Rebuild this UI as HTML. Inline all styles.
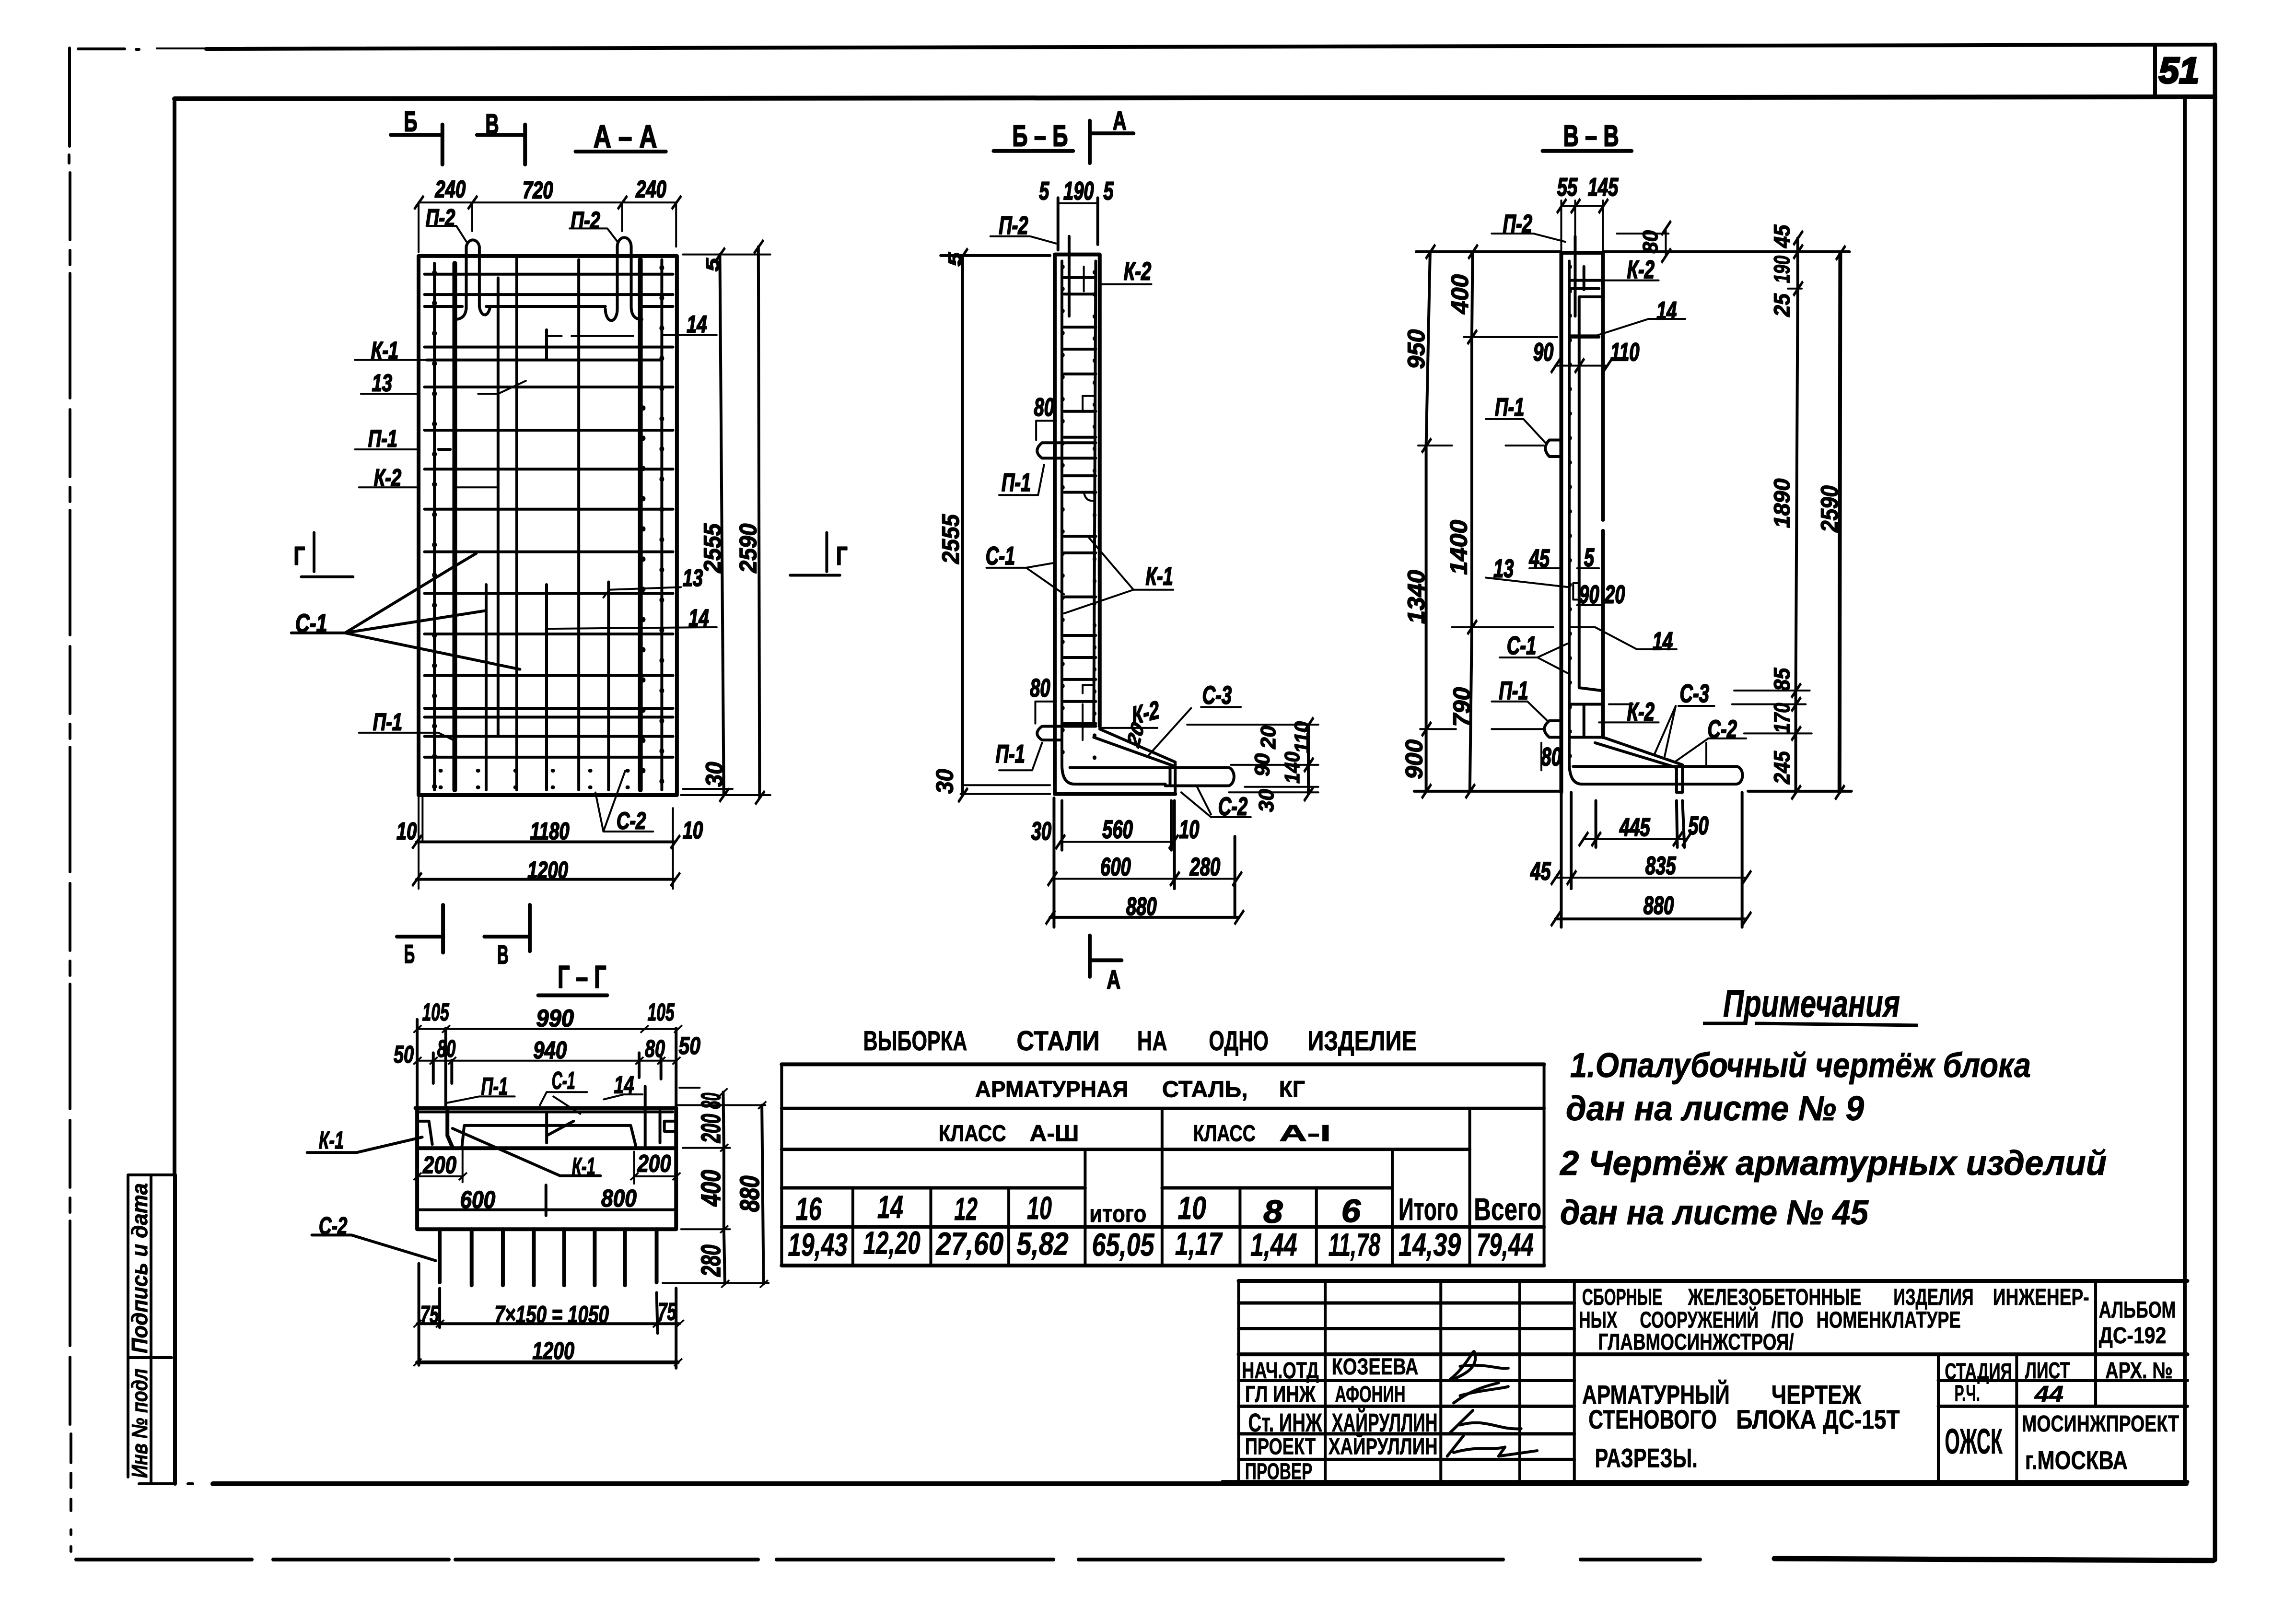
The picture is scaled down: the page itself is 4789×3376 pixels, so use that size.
<!DOCTYPE html>
<html><head><meta charset="utf-8"><style>
html,body{margin:0;padding:0;background:#fff}
svg{display:block}
svg *{vector-effect:non-scaling-stroke}
g.l{fill:none;stroke:#000;stroke-width:5;stroke-linecap:round;stroke-linejoin:round}
text{fill:#000;stroke:#000;stroke-width:2;font-family:"Liberation Sans","Noto Sans CJK SC",sans-serif;font-weight:bold}
.c{text-anchor:middle;dominant-baseline:central;font-style:italic}
.h{text-anchor:middle;dominant-baseline:central}
.n{font-style:italic;font-size:72px;stroke-width:1;font-weight:bold}
.d{marker-start:url(#t);marker-mid:url(#t);marker-end:url(#t)}
.k{stroke-width:8}
.m{stroke-width:6}
.f{stroke-width:4}
</style></head><body>
<svg xmlns="http://www.w3.org/2000/svg" width="4789" height="3376" viewBox="0 0 4789 3376">
<defs><marker id="t" viewBox="-20 -20 40 40" markerWidth="40" markerHeight="40" markerUnits="userSpaceOnUse" refX="0" refY="0" overflow="visible"><polygon points="-13,11 11,-15 15,-11 -9,15" fill="#000" stroke="none"/></marker></defs>
<rect width="4789" height="3376" fill="#fff"/>

<!-- frame -->
<g class="l">
<path class="k" d="M430 102L4620 93"/>
<path class="f" d="M327 101H430"/>
<path class="m" d="M163 102H260M284 103H290"/>
<path class="m" d="M145 100V305M144 323V340" />
<path class="m" stroke-dasharray="140 22 30 18 260 24" d="M146 360V2990"/>
<path class="m" stroke-dasharray="60 22 30 24" d="M148 2990V3150"/>
<path class="m" d="M148 3190V3200M148 3225V3235"/>
<path class="k" d="M159 3252H525M570 3252H936M950 3252H1581M1620 3252H2197M2250 3252H3135M3297 3252H3546"/>
<path stroke-width="11" d="M3701 3250L4616 3254"/>
<path stroke-width="9" d="M4620 93V3253"/>
<path stroke-width="8" d="M4495 93V202"/>
<path stroke-width="10" d="M364 206L4620 202"/>
<path class="k" d="M364 206V2450"/>
<path class="k" d="M365 2450V3094"/>
<path stroke-width="8" d="M4557 202V3090"/>
<path stroke-width="10" d="M444 3094H4560"/>
<path class="m" d="M290 3094H361M392 3094H402"/>
<path class="m" d="M267 2450H365M267 2450V3080M315 2450V3090M267 2831H358"/>
</g>
<text x="4545" y="173" text-anchor="middle" style="font-size:76px;font-style:italic;stroke-width:4">51</text>
<text transform="translate(307,2822) rotate(-90)" textLength="355" lengthAdjust="spacingAndGlyphs" style="font-size:46px;font-style:italic;stroke-width:1">Подпись и дата</text>
<text transform="translate(307,3082) rotate(-90)" textLength="228" lengthAdjust="spacingAndGlyphs" style="font-size:46px;font-style:italic;stroke-width:1">Инв № подл</text>

<!-- A-A -->
<g class="l" transform="translate(500,200) scale(.829,1.084)" style="font-size:46px">
<path class="k" d="M450 308H1100V1345H450Z"/>
<path class="m" d="M465 343H1090M465 382H1090M465 405H560M620 405H920M1010 405H1090M465 483H1090M470 508H1060M465 560H1090M465 643H1090M500 680H530M465 718H1090M465 795H1090M465 877H1090M465 957H1090M465 1035H1090M465 1115H1090M465 1178H1090M465 1195H1090M465 1232H1090M465 1272H1090"/>
<path class="m" d="M490 322V1335M650 350V1230M697 310V1335M853 315V1335M1062 315V1335M620 940V1335M772 940V1335M928 935V1335"/>
<path stroke-width="10" d="M541 322V1335M1008 315V1335"/>
<path stroke-width="10" stroke-dasharray="1 62" d="M490 340V1330M1062 330V1330M1015 600V1330"/>
<path stroke-width="8" stroke-dasharray="1 77" d="M505 1298H1050M505 1330H1050"/>
<path class="m" d="M570 410V290A17 17 0 0 1 603 290V405A14 22 0 0 0 630 405M540 430Q570 430 570 405M950 410V290A17 17 0 0 1 985 290V405Q985 430 1012 430M920 410A15 22 0 0 0 950 410"/>
<path class="k" d="M380 75H510M510 55V132M597 75H718M718 55V132M845 107H1072"/>
<text class="h" x="430" y="50" textLength="34" lengthAdjust="spacingAndGlyphs" style="font-size:54px">Б</text>
<text class="h" x="635" y="55" textLength="34" lengthAdjust="spacingAndGlyphs" style="font-size:54px">В</text>
<text class="h" x="970" y="78" textLength="160" lengthAdjust="spacing" style="font-size:62px">А – А</text>
<path class="d f" d="M450 205H585H962H1098"/>
<path class="f" d="M450 205V300M585 205V260M962 205V260M1098 205V290"/>
<text class="c" x="530" y="180">240</text><text class="c" x="750" y="182">720</text><text class="c" x="1035" y="180">240</text>
<path class="f" d="M470 250H545L570 280M830 255H925L950 280"/>
<text class="c" x="505" y="235">П-2</text><text class="c" x="870" y="240">П-2</text>
<path class="f" d="M1063 460H1200M772 462H810M835 462H990"/>
<path class="m" d="M772 450V505"/>
<text class="c" x="1150" y="440">14</text>
<path class="f" d="M290 508H490M305 573H445M600 573H650L720 548M290 680H445M300 753H445M540 753H650"/>
<text class="c" x="365" y="490">К-1</text><text class="c" x="358" y="553">13</text><text class="c" x="360" y="660">П-1</text><text class="c" x="372" y="735">К-2</text>
<path class="m" d="M187 840V915M155 925H285M1477 840V915M1385 922H1510"/>
<text class="h" x="150" y="885" style="font-size:50px">Г</text><text class="h" x="1515" y="885" style="font-size:50px">Г</text>
<path class="m" d="M130 1033H265L540 905L595 880M265 1033L620 990M265 1033L705 1103"/>
<text class="c" x="180" y="1015" style="font-size:50px">С-1</text>
<path class="f" d="M915 965L930 950L1110 945M775 1025L1200 1022M300 1225H500L540 1240"/>
<text class="c" x="1140" y="928">13</text><text class="c" x="1155" y="1005">14</text><text class="c" x="372" y="1205">П-1</text>
<path class="f" d="M895 1340L915 1415H1040M915 1415L970 1298"/>
<text class="c" x="985" y="1395">С-2</text>
<path class="d m" d="M1208 305L1218 1345"/><path class="d m" d="M1305 290L1308 1350"/>
<path class="f" d="M1115 305H1335M1115 1333H1240M1110 1345H1335"/>
<text class="c" transform="translate(1190,870) rotate(-90)" textLength="95" lengthAdjust="spacingAndGlyphs" style="font-size:60px">2555</text>
<text class="c" transform="translate(1280,870) rotate(-90)" textLength="95" lengthAdjust="spacingAndGlyphs" style="font-size:60px">2590</text>
<text class="c" transform="translate(1190,325) rotate(-90)" style="font-size:46px">5</text>
<text class="c" transform="translate(1195,1305) rotate(-90)" textLength="48" lengthAdjust="spacingAndGlyphs" style="font-size:60px">30</text>
<path class="d m" d="M445 1435H1095"/><path class="d m" d="M445 1507H1095"/>
<path class="f" d="M450 1345V1525M460 1345V1435M1090 1370V1525"/>
<text class="c" x="420" y="1415">10</text><text class="c" x="780" y="1415">1180</text><text class="c" x="1140" y="1413">10</text><text class="c" x="775" y="1490">1200</text>
</g>

<!-- Б-Б -->
<g class="l" transform="translate(1900,200) scale(.829,1.148)" style="font-size:46px">
<path class="k" d="M208 100H408M450 45V122M450 68H560"/>
<text class="h" x="325" y="73" textLength="140" lengthAdjust="spacing" style="font-size:54px">Б – Б</text><text class="h" x="525" y="45" style="font-size:48px">А</text>
<text class="c" x="335" y="172">5</text><text class="c" x="422" y="172">190</text><text class="c" x="497" y="172">5</text>
<path class="m" d="M370 185V280M470 185V270"/><path class="f" d="M370 195H470"/>
<path class="f" d="M200 255H300L365 268"/><text class="c" x="258" y="235">П-2</text>
<path class="m" d="M75 290H350"/><text class="c" transform="translate(110,297) rotate(-90)">5</text>
<path class="d m" d="M130 290V1270"/><text class="c" transform="translate(100,805) rotate(-90)" textLength="90" lengthAdjust="spacingAndGlyphs" style="font-size:60px">2555</text>
<text class="c" transform="translate(85,1245) rotate(-90)" textLength="45" lengthAdjust="spacingAndGlyphs" style="font-size:60px">30</text>
<path class="f" d="M135 1252H350M125 1268H350"/>
<path class="k" d="M362 288V1268H665M362 288H475M475 288V1145"/>
<path class="m" d="M380 300V1215Q380 1250 412 1250H640M465 300L460 1145M398 255V400"/>
<path class="m" d="M385 330H465M385 360H465M385 420H465M385 460H465M385 505H465M385 573H465M385 620H465M385 690H465M385 720H465M385 800H465M385 830H465M385 910H465M385 980H465M385 1020H465M385 1060H465M385 1100H465M385 1140H465"/>
<path stroke-width="8" stroke-dasharray="1 45" d="M382 310V1210M462 320V1210"/>
<path class="f" d="M435 310V355M432 570V545H460M432 1085V1070H460M432 1105V1170M435 720Q440 738 462 735"/>
<path class="m" d="M475 1150L665 1210M460 1165L665 1218M665 1210V1268M652 1220V1250"/>
<path class="m" d="M400 1220H800A17 17 0 0 1 800 1253H640"/>
<path class="f" d="M480 342H605M475 1148H620"/>
<text class="c" x="570" y="318">К-2</text><text class="c" transform="translate(590,1120) rotate(-10)">К-2</text>
<path class="m" d="M465 630H330Q305 645 330 658H465"/>
<path class="f" d="M315 590H365M315 590V625M222 725H320L335 670"/>
<text class="c" x="335" y="565">80</text><text class="c" x="265" y="702">П-1</text>
<path class="m" d="M465 1145H330Q305 1158 330 1170H380"/>
<path class="f" d="M313 1100H365M313 1100V1140M222 1225H305L330 1175"/>
<text class="c" x="325" y="1075">80</text><text class="c" x="250" y="1195">П-1</text>
<path class="f" d="M190 857H290L362 848M290 857L385 905"/><text class="c" x="225" y="835">С-1</text>
<path class="f" d="M560 897H660M560 897L445 800M560 897L385 940"/><text class="c" x="625" y="872">К-1</text>
<path class="f" d="M730 1110H830M705 1112L595 1200"/><text class="c" x="770" y="1088">С-3</text>
<path class="f" d="M680 1265L755 1310H855M720 1255L755 1305"/><text class="c" x="810" y="1290">С-2</text>
<text class="c" x="328" y="1335">30</text><text class="c" x="520" y="1332">560</text><text class="c" x="700" y="1332">10</text><text class="c" x="515" y="1400">600</text><text class="c" x="740" y="1400">280</text><text class="c" x="580" y="1472">880</text>
<path class="m" d="M360 1275V1510M380 1280V1370M655 1280V1370M663 1280V1440M815 1345V1490"/>
<path class="d f" d="M375 1355H660"/><path class="d f" d="M355 1422H663H820"/><path class="d m" d="M350 1492H825"/>
<path class="k" d="M450 1525V1600M450 1570H530"/><text class="h" x="510" y="1605" style="font-size:48px">А</text>
<path class="f" d="M695 1142H1025M805 1215H1025M840 1255H1025M800 1265H1025"/>
<path class="d m" d="M1000 1142V1215V1268"/>
<text class="c" transform="translate(900,1165) rotate(-90)" textLength="42" lengthAdjust="spacingAndGlyphs" style="font-size:52px">20</text><text class="c" transform="translate(885,1215) rotate(-90)" textLength="42" lengthAdjust="spacingAndGlyphs" style="font-size:52px">90</text><text class="c" transform="translate(895,1280) rotate(-90)" textLength="42" lengthAdjust="spacingAndGlyphs" style="font-size:52px">30</text>
<text class="c" transform="translate(985,1165) rotate(-90)" textLength="58" lengthAdjust="spacingAndGlyphs" style="font-size:52px">110</text><text class="c" transform="translate(960,1220) rotate(-90)" textLength="58" lengthAdjust="spacingAndGlyphs" style="font-size:52px">140</text>
<text class="c" transform="translate(565,1160) rotate(-70)" textLength="42" lengthAdjust="spacingAndGlyphs">20</text>
</g>

<!-- В-В -->
<g class="l" transform="translate(2900,200) scale(.829,1.148)" style="font-size:46px">
<path class="k" d="M383 100H607"/><text class="h" x="505" y="73" textLength="140" lengthAdjust="spacing" style="font-size:54px">В – В</text>
<text class="c" x="445" y="165">55</text><text class="c" x="535" y="165">145</text>
<path class="f" d="M430 190V280M465 190V280M535 190V280"/><path class="d f" d="M430 200H465H535"/>
<path class="f" d="M255 250H360L440 265"/><text class="c" x="320" y="232">П-2</text>
<path class="k" d="M430 285V1265M535 285V770M535 790V1165M430 285H535"/>
<path class="m" d="M450 300V1210Q450 1250 482 1250H720M465 255V400M475 365V1075L530 1080M475 365H530M450 350H525M450 335H530M450 438H525M450 1105H530M450 1165H530M487 310V352M487 1105V1165"/>
<path stroke-width="8" stroke-dasharray="1 50" d="M452 310V1200"/>
<path class="d m" d="M100 283L90 635L90 1150L90 1263"/><path class="d m" d="M207 283L205 438L205 965L200 1263"/>
<path class="m" d="M65 283H430M535 283H1155M60 1263H430M900 1263H1160"/>
<path class="f" d="M185 438H420M70 635H155M155 965H410M75 1150H165"/>
<text class="c" transform="translate(65,460) rotate(-90)" textLength="72" lengthAdjust="spacingAndGlyphs" style="font-size:60px">950</text><text class="c" transform="translate(175,360) rotate(-90)" textLength="72" lengthAdjust="spacingAndGlyphs" style="font-size:60px">400</text><text class="c" transform="translate(172,820) rotate(-90)" textLength="100" lengthAdjust="spacingAndGlyphs" style="font-size:60px">1400</text><text class="c" transform="translate(65,910) rotate(-90)" textLength="98" lengthAdjust="spacingAndGlyphs" style="font-size:60px">1340</text><text class="c" transform="translate(180,1110) rotate(-90)" textLength="72" lengthAdjust="spacingAndGlyphs" style="font-size:60px">790</text><text class="c" transform="translate(60,1205) rotate(-90)" textLength="72" lengthAdjust="spacingAndGlyphs" style="font-size:60px">900</text>
<path class="f" d="M240 587H335L390 630M290 635H385M255 1100H345L395 1135M255 1150H385"/>
<path class="m" d="M430 625H400Q380 640 400 655H430M430 1135H400Q375 1150 400 1165H430"/>
<text class="c" x="300" y="565">П-1</text><text class="c" x="310" y="1080">П-1</text>
<path class="f" d="M450 435H520L650 405H742"/><text class="c" x="695" y="390">14</text>
<path class="d f" d="M415 490H475H545"/><text class="c" x="385" y="465">90</text><text class="c" x="590" y="465">110</text>
<path class="f" d="M240 875L445 892M350 858H430M470 858H525M460 885H475V915H460ZM470 925H530"/>
<text class="c" x="285" y="858">13</text><text class="c" x="375" y="840">45</text><text class="c" x="500" y="838">5</text><text class="c" x="500" y="905">90</text><text class="c" x="565" y="905">20</text>
<path class="f" d="M450 965H515L620 1005H720"/><text class="c" x="685" y="990">14</text>
<path class="f" d="M275 1020H370L445 995M370 1020L450 1050"/><text class="c" x="330" y="998">С-1</text>
<path class="f" d="M380 1175V1225"/><text class="c" x="405" y="1200">80</text>
<path class="f" d="M535 335H675M550 1105H610M525 1138H675"/><text class="c" x="630" y="315">К-2</text><text class="c" x="630" y="1118">К-2</text>
<path class="m" d="M535 1165L735 1215M515 1175L720 1220M735 1215V1265H720V1220"/>
<path class="m" d="M460 1218H870A16 16 0 0 1 870 1250H720"/>
<path class="f" d="M725 1108H815M718 1108L665 1195M718 1108L690 1200M800 1167H895M800 1167L715 1210M795 1175V1215"/>
<text class="c" x="765" y="1085">С-3</text><text class="c" x="835" y="1150">С-2</text>
<path class="m" d="M430 1265V1510M455 1265V1440M517 1280V1365M720 1280L722 1365M735 1280L740 1365M885 1265V1510"/>
<path class="d f" d="M485 1350H517H722H745"/><path class="d f" d="M415 1420H455H895"/><path class="d m" d="M415 1495H895"/>
<text class="c" x="615" y="1328">445</text><text class="c" x="775" y="1325">50</text><text class="c" x="378" y="1408">45</text><text class="c" x="680" y="1398">835</text><text class="c" x="675" y="1470">880</text>
<path class="d m" d="M1025 258L1025 283L1025 350L1020 1080L1020 1105L1020 1158L1020 1265"/><path class="d k" d="M1132 285L1130 1265"/>
<path class="f" d="M865 1080H1055M860 1105H1045M890 1158H1060M1000 350H1035"/>
<text class="c" transform="translate(985,255) rotate(-90)" textLength="42" lengthAdjust="spacingAndGlyphs" style="font-size:56px">45</text><text class="c" transform="translate(985,315) rotate(-90)" textLength="50" lengthAdjust="spacingAndGlyphs" style="font-size:56px">190</text><text class="c" transform="translate(985,380) rotate(-90)" textLength="42" lengthAdjust="spacingAndGlyphs" style="font-size:56px">25</text><text class="c" transform="translate(985,740) rotate(-90)" textLength="90" lengthAdjust="spacingAndGlyphs" style="font-size:56px">1890</text><text class="c" transform="translate(985,1060) rotate(-90)" textLength="42" lengthAdjust="spacingAndGlyphs" style="font-size:56px">85</text><text class="c" transform="translate(985,1130) rotate(-90)" textLength="55" lengthAdjust="spacingAndGlyphs" style="font-size:56px">170</text><text class="c" transform="translate(985,1220) rotate(-90)" textLength="60" lengthAdjust="spacingAndGlyphs" style="font-size:56px">245</text><text class="c" transform="translate(1105,750) rotate(-90)" textLength="85" lengthAdjust="spacingAndGlyphs" style="font-size:60px">2590</text>
<path class="f" d="M570 250H700"/><path class="d f" d="M693 240V290"/><text class="c" transform="translate(655,265) rotate(-90)" textLength="42" lengthAdjust="spacingAndGlyphs" style="font-size:52px">80</text>
</g>

<!-- Г-Г -->
<g class="l" transform="translate(600,1950) scale(.7015,.606)" style="font-size:84px">
<path class="k" d="M325 5H462M462 -104V60M585 5H720M720 -104V55M745 207H950"/>
<text class="h" x="362" y="65" textLength="32" lengthAdjust="spacingAndGlyphs" style="font-size:90px">Б</text><text class="h" x="640" y="68" textLength="34" lengthAdjust="spacingAndGlyphs" style="font-size:90px">В</text>
<text class="h" x="875" y="145" textLength="145" lengthAdjust="spacingAndGlyphs" style="font-size:110px">Г – Г</text>
<path class="d f" d="M385 323H470H1060H1160"/><path class="d f" d="M385 432H433H488H1045H1110H1155"/>
<text class="c" x="795" y="285" textLength="112" lengthAdjust="spacingAndGlyphs">990</text><text class="c" x="440" y="265" textLength="80" lengthAdjust="spacingAndGlyphs">105</text><text class="c" x="1110" y="265" textLength="80" lengthAdjust="spacingAndGlyphs">105</text><text class="c" x="780" y="395" textLength="100" lengthAdjust="spacingAndGlyphs">940</text><text class="c" x="345" y="410" textLength="60" lengthAdjust="spacingAndGlyphs">50</text><text class="c" x="472" y="390" textLength="55" lengthAdjust="spacingAndGlyphs">80</text><text class="c" x="1092" y="390" textLength="60" lengthAdjust="spacingAndGlyphs">80</text><text class="c" x="1195" y="380" textLength="65" lengthAdjust="spacingAndGlyphs">50</text>
<path class="m" d="M385 290V590M470 320V590M433 405V510M488 430V510M1045 405V490M1110 420V495M1155 320V590"/>
<path class="k" d="M380 595H1155M385 595V1012H1155V595M385 733H1155"/>
<path class="m" d="M385 608H1145M390 945H1150M768 860V965"/>
<path class="m" d="M1020 655H525L518 730M1020 655L1035 725M1063 520V725M1107 605V715M770 610V715M770 690L850 640M388 640H420L430 720M1150 640H1120V675H1150"/>
<path stroke-width="8" d="M475 605V690L490 730"/>
<path class="f" d="M470 578L570 555H675M770 540H890M770 540L750 585M790 555L870 615M940 565L1000 548H1055"/>
<text class="c" x="615" y="520" textLength="80" lengthAdjust="spacingAndGlyphs">П-1</text><text class="c" x="820" y="500" textLength="70" lengthAdjust="spacingAndGlyphs">С-1</text><text class="c" x="1000" y="515" textLength="60" lengthAdjust="spacingAndGlyphs">14</text>
<path class="m" d="M58 748H205L400 695M930 828H810L490 665M72 1032H190L440 1120"/>
<text class="c" x="130" y="705" textLength="75" lengthAdjust="spacingAndGlyphs">К-1</text><text class="c" x="880" y="795" textLength="70" lengthAdjust="spacingAndGlyphs">К-1</text><text class="c" x="135" y="1000" textLength="85" lengthAdjust="spacingAndGlyphs">С-2</text>
<text class="c" x="452" y="790" textLength="100" lengthAdjust="spacingAndGlyphs">200</text><text class="c" x="1090" y="785" textLength="100" lengthAdjust="spacingAndGlyphs">200</text><text class="c" x="565" y="910" textLength="105" lengthAdjust="spacingAndGlyphs">600</text><text class="c" x="985" y="905" textLength="105" lengthAdjust="spacingAndGlyphs">800</text>
<path class="f" d="M520 730V850M1030 745V855"/><path class="d f" d="M385 830H520"/><path class="d f" d="M1030 830H1155"/>
<path class="k" d="M452 1012V1195M547 1012V1205M640 1012V1205M732 1012V1205M822 1012V1205M913 1012V1205M1003 1012V1205M1097 1012V1195"/>
<path class="f" d="M1170 1012H1315M1115 1197H1430M1175 732H1315M1165 525H1225M1160 585H1420"/>
<path class="d m" d="M1295 540L1297 732L1297 1012L1300 1200"/><path class="d m" d="M1410 585L1415 1200"/>
<text class="c" transform="translate(1260,570) rotate(-90)" textLength="55" lengthAdjust="spacingAndGlyphs" style="font-size:80px">80</text><text class="c" transform="translate(1260,665) rotate(-90)" textLength="100" lengthAdjust="spacingAndGlyphs" style="font-size:80px">200</text><text class="c" transform="translate(1260,870) rotate(-90)" textLength="125" lengthAdjust="spacingAndGlyphs" style="font-size:80px">400</text><text class="c" transform="translate(1260,1120) rotate(-90)" textLength="110" lengthAdjust="spacingAndGlyphs" style="font-size:80px">280</text><text class="c" transform="translate(1375,890) rotate(-90)" textLength="125" lengthAdjust="spacingAndGlyphs" style="font-size:80px">880</text>
<path class="m" d="M390 1130V1480M452 1215V1350M1097 1230L1100 1370M1155 1215V1490"/>
<path class="d m" d="M385 1337H452H1097H1165"/><path class="d k" d="M385 1470H1160"/>
<text class="c" x="422" y="1305" textLength="55" lengthAdjust="spacingAndGlyphs">75</text><text class="c" x="785" y="1305" textLength="340" lengthAdjust="spacingAndGlyphs">7×150 = 1050</text><text class="c" x="1128" y="1295" textLength="55" lengthAdjust="spacingAndGlyphs">75</text><text class="c" x="790" y="1430" textLength="125" lengthAdjust="spacingAndGlyphs">1200</text>
</g>

<!-- table -->
<g class="l" transform="translate(1600,2100) scale(1.084,.3827)">
<path stroke-width="8" d="M28 312H1495M28 1408H1495"/>
<path class="m" d="M28 312V1408M1495 312V1408M760 552V1408M1352 552V1408M612 775V1408M1203 775V1408M165 985V1408M315 985V1408M465 985V1408M910 985V1408M1057 985V1408"/>
<path stroke-width="7" d="M28 552H1495M28 775H1352M28 985H612M760 985H1203M28 1198H1495"/>
<g style="font-size:150px">
<text x="185" y="235" textLength="200" lengthAdjust="spacingAndGlyphs">ВЫБОРКА</text><text x="480" y="235" textLength="160" lengthAdjust="spacingAndGlyphs">СТАЛИ</text><text x="712" y="235" textLength="58" lengthAdjust="spacingAndGlyphs">НА</text><text x="850" y="235" textLength="115" lengthAdjust="spacingAndGlyphs">ОДНО</text><text x="1040" y="235" textLength="210" lengthAdjust="spacingAndGlyphs">ИЗДЕЛИЕ</text>
</g>
<g style="font-size:125px">
<text x="400" y="490" textLength="295" lengthAdjust="spacingAndGlyphs">АРМАТУРНАЯ</text><text x="760" y="490" textLength="165" lengthAdjust="spacingAndGlyphs">СТАЛЬ,</text><text x="985" y="490" textLength="50" lengthAdjust="spacingAndGlyphs">КГ</text>
<text x="330" y="730" textLength="130" lengthAdjust="spacingAndGlyphs">КЛАСС</text><text x="505" y="730" textLength="95" lengthAdjust="spacingAndGlyphs">А-Ш</text>
<text x="820" y="730" textLength="120" lengthAdjust="spacingAndGlyphs">КЛАСС</text><text x="985" y="730" textLength="100" lengthAdjust="spacingAndGlyphs">А-I</text>
</g>
<g style="font-size:175px;font-style:italic">
<text x="55" y="1160" textLength="50" lengthAdjust="spacingAndGlyphs">16</text><text x="212" y="1150" textLength="50" lengthAdjust="spacingAndGlyphs">14</text><text x="360" y="1160" textLength="45" lengthAdjust="spacingAndGlyphs">12</text><text x="500" y="1155" textLength="48" lengthAdjust="spacingAndGlyphs">10</text>
<text x="790" y="1155" textLength="55" lengthAdjust="spacingAndGlyphs">10</text><text transform="translate(955,1175) scale(.38,1)" x="0" y="0">8</text><text transform="translate(1105,1170) scale(.38,1)" x="0" y="0">6</text>
<text x="40" y="1355" textLength="115" lengthAdjust="spacingAndGlyphs">19,43</text><text x="185" y="1345" textLength="110" lengthAdjust="spacingAndGlyphs">12,20</text><text x="325" y="1350" textLength="130" lengthAdjust="spacingAndGlyphs">27,60</text><text x="480" y="1350" textLength="100" lengthAdjust="spacingAndGlyphs">5,82</text><text x="625" y="1355" textLength="120" lengthAdjust="spacingAndGlyphs">65,05</text><text x="785" y="1350" textLength="90" lengthAdjust="spacingAndGlyphs">1,17</text><text x="930" y="1355" textLength="90" lengthAdjust="spacingAndGlyphs">1,44</text><text x="1080" y="1355" textLength="100" lengthAdjust="spacingAndGlyphs">11,78</text><text x="1215" y="1355" textLength="120" lengthAdjust="spacingAndGlyphs">14,39</text><text x="1365" y="1355" textLength="110" lengthAdjust="spacingAndGlyphs">79,44</text>
</g>
<text x="620" y="1170" textLength="110" lengthAdjust="spacingAndGlyphs" style="font-size:130px">итого</text>
<text x="1215" y="1160" textLength="115" lengthAdjust="spacingAndGlyphs" style="font-size:170px">Итого</text>
<text x="1360" y="1160" textLength="130" lengthAdjust="spacingAndGlyphs" style="font-size:170px">Всего</text>
</g>

<!-- notes -->
<text class="n" x="3594" y="2120" textLength="369" lengthAdjust="spacingAndGlyphs" style="font-size:80px">Примечания</text>
<path d="M3552 2134H3640M3660 2134L4000 2138" stroke="#000" stroke-width="7" fill="none"/>
<text class="n" x="3275" y="2246" textLength="961" lengthAdjust="spacingAndGlyphs">1.Опалубочный  чертёж  блока</text>
<text class="n" x="3266" y="2336" textLength="622" lengthAdjust="spacingAndGlyphs">дан  на  листе  № 9</text>
<text class="n" x="3254" y="2450" textLength="1140" lengthAdjust="spacingAndGlyphs">2 Чертёж  арматурных  изделий</text>
<text class="n" x="3254" y="2553" textLength="643" lengthAdjust="spacingAndGlyphs">дан  на  листе № 45</text>

<!-- title block -->
<g class="l" transform="translate(2550,2650) scale(1.339,.3827)">
<path stroke-width="8" d="M25 55H1503M25 455H1503M0 1150H1503"/>
<path class="m" d="M25 55V1150M160 55V1150M340 55V1150M463 55V1150M548 55V1150M1360 55V738M1115 455V1150M1237 455V1150"/>
<path stroke-width="7" d="M25 175H548M25 315H548M25 597H548M1115 597H1503M25 738H548M1115 738H1503M25 888H548M25 1028H548"/>
<path class="m" d="M355 590C380 520 390 430 392 440C400 520 380 560 360 590M370 520C410 500 430 540 445 530M360 720C390 640 420 620 430 610M370 680C400 650 440 640 445 630M390 760L355 880M370 840C410 800 430 870 465 860M375 900L350 1010M360 990C400 950 420 980 440 960L430 1010L490 980"/>
<g style="font-size:125px">
<text x="560" y="185" textLength="125" lengthAdjust="spacingAndGlyphs">СБОРНЫЕ</text><text x="725" y="185" textLength="270" lengthAdjust="spacingAndGlyphs">ЖЕЛЕЗОБЕТОННЫЕ</text><text x="1045" y="185" textLength="125" lengthAdjust="spacingAndGlyphs">ИЗДЕЛИЯ</text><text x="1200" y="185" textLength="150" lengthAdjust="spacingAndGlyphs">ИНЖЕНЕР-</text>
<text x="555" y="310" textLength="60" lengthAdjust="spacingAndGlyphs">НЫХ</text><text x="650" y="310" textLength="185" lengthAdjust="spacingAndGlyphs">СООРУЖЕНИЙ</text><text x="855" y="310" textLength="50" lengthAdjust="spacingAndGlyphs">/ПО</text><text x="925" y="310" textLength="225" lengthAdjust="spacingAndGlyphs">НОМЕНКЛАТУРЕ</text>
<text x="585" y="430" textLength="305" lengthAdjust="spacingAndGlyphs">ГЛАВМОСИНЖСТРОЯ/</text>
<text x="1365" y="255" textLength="120" lengthAdjust="spacingAndGlyphs">АЛЬБОМ</text><text x="1365" y="395" textLength="105" lengthAdjust="spacingAndGlyphs">ДС-192</text>
<text x="30" y="585" textLength="120" lengthAdjust="spacingAndGlyphs">НАЧ.ОТД</text><text x="170" y="565" textLength="135" lengthAdjust="spacingAndGlyphs">КОЗЕЕВА</text>
<text x="35" y="715" textLength="110" lengthAdjust="spacingAndGlyphs">ГЛ ИНЖ</text><text x="175" y="715" textLength="110" lengthAdjust="spacingAndGlyphs">АФОНИН</text>
<text x="40" y="875" textLength="115" lengthAdjust="spacingAndGlyphs" style="font-size:140px">Ст. ИНЖ</text><text x="170" y="875" textLength="165" lengthAdjust="spacingAndGlyphs" style="font-size:140px">ХАЙРУЛЛИН</text>
<text x="35" y="1000" textLength="110" lengthAdjust="spacingAndGlyphs">ПРОЕКТ</text><text x="165" y="1000" textLength="170" lengthAdjust="spacingAndGlyphs">ХАЙРУЛЛИН</text>
<text x="35" y="1135" textLength="105" lengthAdjust="spacingAndGlyphs">ПРОВЕР</text>
<text x="1125" y="590" textLength="105" lengthAdjust="spacingAndGlyphs">СТАДИЯ</text><text x="1250" y="585" textLength="70" lengthAdjust="spacingAndGlyphs">ЛИСТ</text><text x="1375" y="585" textLength="105" lengthAdjust="spacingAndGlyphs">АРХ. №</text>
<text x="1140" y="710" textLength="40" lengthAdjust="spacingAndGlyphs">Р.Ч.</text><text x="1265" y="715" textLength="45" lengthAdjust="spacingAndGlyphs" style="font-style:italic">44</text>
<text x="1245" y="875" textLength="245" lengthAdjust="spacingAndGlyphs">МОСИНЖПРОЕКТ</text><text x="1250" y="1080" textLength="160" lengthAdjust="spacingAndGlyphs" style="font-size:140px">г.МОСКВА</text>
</g>
<g style="font-size:145px">
<text x="560" y="725" textLength="230" lengthAdjust="spacingAndGlyphs">АРМАТУРНЫЙ</text><text x="855" y="725" textLength="140" lengthAdjust="spacingAndGlyphs">ЧЕРТЕЖ</text>
<text x="570" y="860" textLength="200" lengthAdjust="spacingAndGlyphs">СТЕНОВОГО</text><text x="800" y="860" textLength="125" lengthAdjust="spacingAndGlyphs">БЛОКА</text><text x="935" y="860" textLength="120" lengthAdjust="spacingAndGlyphs">ДС-15Т</text>
<text x="580" y="1070" textLength="160" lengthAdjust="spacingAndGlyphs">РАЗРЕЗЫ.</text>
<text x="1125" y="995" textLength="90" lengthAdjust="spacingAndGlyphs" style="font-size:195px">ОЖСК</text>
</g>
</g>
</svg>
</body></html>
